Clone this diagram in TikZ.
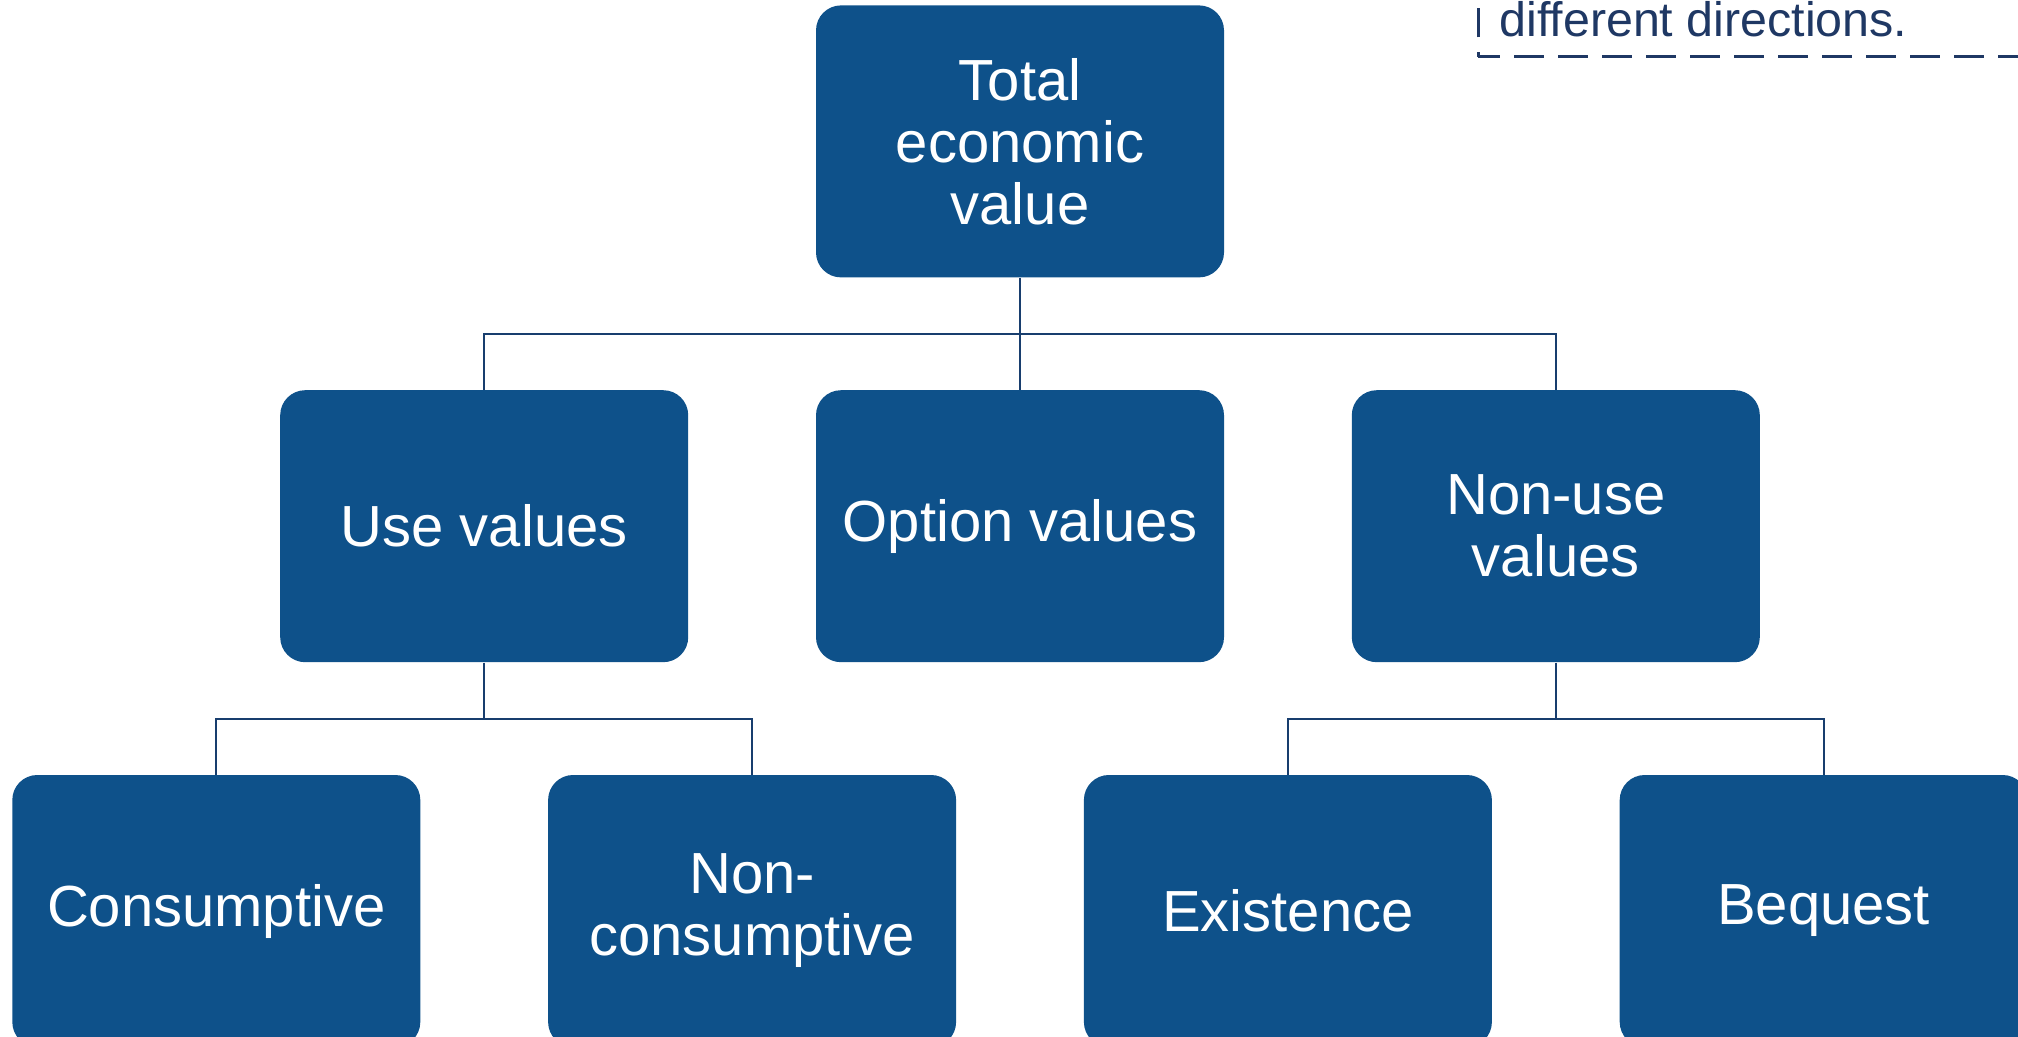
\documentclass[tikz,border=0pt]{standalone}
\usepackage{fontspec}
\setmainfont{Liberation Sans}
\usetikzlibrary{positioning}

\definecolor{boxblue}{RGB}{14,81,138}
\definecolor{linkblue}{RGB}{24,62,110}
\definecolor{navy}{RGB}{31,56,100}

\tikzset{
  box/.style={rectangle, rounded corners=12.5pt, fill=boxblue, text=white,
    minimum width=204pt, minimum height=136pt, inner sep=0pt, align=center,
    font=\fontsize{29pt}{31pt}\selectfont},
  link/.style={draw=linkblue, line width=1pt},
  frame/.style={draw=navy, line width=1.5pt, dash pattern=on 14.75pt off 7.25pt}
}

\begin{document}
\begin{tikzpicture}[node distance=56pt and 63.5pt]
  \useasboundingbox (0,0) rectangle (1009pt,-518.5pt);

  \node [box, anchor=north] (total) at (510pt,-2.5pt) {Total\\economic\\value};
  \node [box] (option) [below=of total] {Option values};
  \node [box] (use) [left=of option] {Use values};
  \node [box] (nonuse) [right=of option] {Non-use\\values};
  \node [box] (cons) [below=of use.south west, xshift=-31.75pt] {Consumptive};
  \node [box] (noncons) [right=of cons] {Non-\\consumptive};
  \node [box] (exist) [right=of noncons] {Existence};
  \node [box] (bequest) [right=of exist] {Bequest};

  % tree links
  \draw [link] (total) -- (option);
  \draw [link] (use.north) -- ++(0,28pt) -| (nonuse.north);
  \draw [link] (use.south) -- ++(0,-28pt);
  \draw [link] (cons.north) -- ++(0,28pt) -| (noncons.north);
  \draw [link] (nonuse.south) -- ++(0,-28pt);
  \draw [link] (exist.north) -- ++(0,28pt) -| (bequest.north);

  % cut-off note in the corner
  \coordinate (corner) at (739pt,-28.5pt);
  \draw [frame, dash phase=12.25pt] (corner) -- ++(0,40pt);
  \draw [frame, dash phase=4pt] (corner) -- ++(300pt,0);
  \node [anchor=base west, inner sep=0pt, text=navy,
    font=\fontsize{24.2pt}{28pt}\selectfont] (note) at (749.5pt,-18.5pt) {different directions.};
\end{tikzpicture}
\end{document}
